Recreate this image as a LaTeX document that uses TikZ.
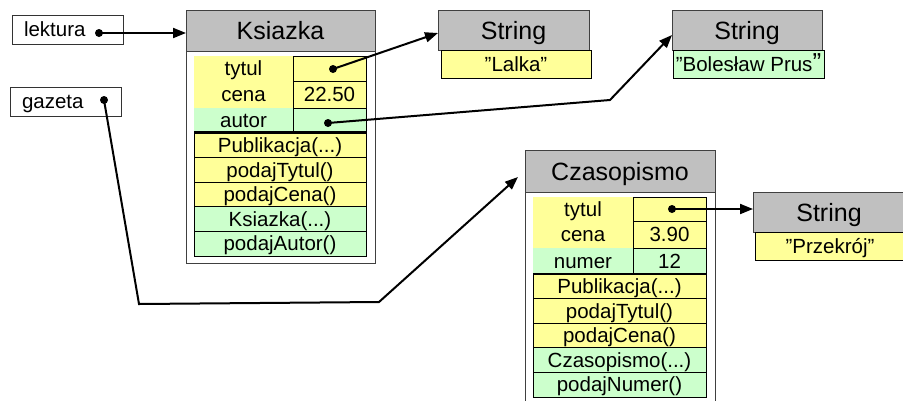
\documentclass[tikz,border=0pt]{standalone}
\usepackage{fontspec}
\setmainfont{Liberation Sans}
\usetikzlibrary{arrows.meta}

\definecolor{hdgray}{HTML}{C0C0C0}
\definecolor{fldyellow}{HTML}{FFFF99}
\definecolor{fldgreen}{HTML}{CCFFCC}

% three dots of the argument lists (kept out of the \foreach lists)
\newcommand{\argdots}{...}

\begin{document}
\begin{tikzpicture}[
    x=1pt, y=-1pt,
    every node/.style={inner sep=0pt, outer sep=0pt, anchor=north west},
    txt/.style={font=\fontsize{20.5}{20.5}\selectfont, text height=14.5pt, text depth=0pt},
    objbox/.style={draw=black!75, line width=1pt, fill=white},
    head/.style={draw=black!75, line width=1pt, fill=hdgray,
        font=\fontsize{25}{25}\selectfont, text height=18pt, text depth=0pt},
    namecell/.style={txt},
    valcell/.style={txt, draw=black, line width=0.9pt},
    method/.style={txt, draw=black, line width=0.9pt},
    varbox/.style={txt, draw=black!80, line width=0.9pt, text width=87pt,
        inner xsep=12pt, align=left, minimum height=29pt},
    dot/.style={circle, fill=black, minimum size=8pt, anchor=center},
    ref/.style={line width=2pt, -{Triangle[length=13pt,width=10pt]}}
]
\clip (0,0) rectangle (903,400);

% variables
\node [varbox] (lektura) at (12,15) {lektura};
\node [varbox] (gazeta) at (10,87) {gazeta};
\node [dot] (lDot) at (99,33) {};
\node [dot] (gDot) at (104,100) {};

% object Ksiazka
\node [objbox, minimum width=189pt, minimum height=253pt] (ksiazka) at (186,10) {};
\node [head, minimum width=189pt, minimum height=41pt] (ksiazkaHead) at (186,10) {Ksiazka};
\node [namecell, fill=fldyellow, minimum width=99pt, minimum height=25pt] (kTytul) at (194,56) {tytul};
\node [namecell, fill=fldyellow, minimum width=99pt, minimum height=27pt] (kCena) at (194,81) {cena};
\node [valcell, fill=fldyellow, minimum width=73pt, minimum height=25pt] (kTytulVal) at (293,56) {};
\node [valcell, fill=fldyellow, minimum width=73pt, minimum height=27pt] (kCenaVal) at (293,81) {22.50};
\node [namecell, fill=fldgreen, minimum width=99pt, minimum height=24pt] (kAutor) at (194,108) {autor};
\node [valcell, fill=fldgreen, minimum width=73pt, minimum height=24pt] (kAutorVal) at (293,108) {};
\draw [line width=3pt] (kAutor.south west) -- (kAutorVal.south east);
\foreach \m/\c [count=\i from 0] in {Publikacja(\argdots)/fldyellow, podajTytul()/fldyellow,
        podajCena()/fldyellow, Ksiazka(\argdots)/fldgreen, podajAutor()/fldgreen}
    \node [method, fill=\c, minimum width=172pt, minimum height=24.6pt] (kMeth\i)
        at (194,{133+24.6*\i}) {\m};
\node [dot] (kTytulDot) at (333,69) {};
\node [dot] (kAutorDot) at (328,123) {};

% object Czasopismo
\node [objbox, minimum width=190pt, minimum height=260pt] (czas) at (525,150) {};
\node [head, minimum width=190pt, minimum height=42pt] (czasHead) at (525,150) {Czasopismo};
\node [namecell, fill=fldyellow, minimum width=100pt, minimum height=24pt] (cTytul) at (533,197) {tytul};
\node [namecell, fill=fldyellow, minimum width=100pt, minimum height=27pt] (cCena) at (533,221) {cena};
\node [valcell, fill=fldyellow, minimum width=73pt, minimum height=24pt] (cTytulVal) at (633,197) {};
\node [valcell, fill=fldyellow, minimum width=73pt, minimum height=27pt] (cCenaVal) at (633,221) {3.90};
\node [namecell, fill=fldgreen, minimum width=100pt, minimum height=26pt] (cNumer) at (533,248) {numer};
\node [valcell, fill=fldgreen, minimum width=73pt, minimum height=26pt] (cNumerVal) at (633,248) {12};
\draw [line width=1.4pt] (cNumer.south west) -- (cNumerVal.south east);
\foreach \m/\c [count=\i from 0] in {Publikacja(\argdots)/fldyellow, podajTytul()/fldyellow,
        podajCena()/fldyellow, Czasopismo(\argdots)/fldgreen, podajNumer()/fldgreen}
    \node [method, fill=\c, minimum width=173pt, minimum height=24.6pt] (cMeth\i)
        at (533,{274+24.6*\i}) {\m};
\node [dot] (cTytulDot) at (672,209) {};

% strings
\node [head, minimum width=151pt, minimum height=40pt] (s1Head) at (438,10) {String};
\node [valcell, fill=fldyellow, minimum width=150pt, minimum height=28pt] (s1Val) at (441,50) {"Lalka"};
\node [head, minimum width=150pt, minimum height=40pt] (s2Head) at (672,10) {String};
\node [valcell, fill=fldgreen, minimum width=151pt, minimum height=28pt] (s2Val) at (673,50)
    {"Bolesław Prus{\fontsize{26}{26}\selectfont”}};
\node [head, minimum width=152pt, minimum height=40pt] (s3Head) at (753,192) {String};
\node [valcell, fill=fldyellow, minimum width=150pt, minimum height=28pt] (s3Val) at (755,232) {"Przekrój"};

% references
\coordinate (autorBend) at (610,100);
\coordinate (gazBend1) at (139,304);
\coordinate (gazBend2) at (379,302);
\draw [ref] (lDot.center) -- (lDot.center -| ksiazkaHead.west);
\draw [ref] (kTytulDot.center) -- ([yshift=-3pt]s1Head.west);
\draw [ref] (kAutorDot.center) -- (autorBend) -- ([yshift=-5pt]s2Head.west);
\draw [ref] (gDot.center) -- (gazBend1) -- (gazBend2) -- ([xshift=-7pt,yshift=15pt]czasHead.south west);
\draw [ref] (cTytulDot.center) -- (cTytulDot.center -| s3Head.west);
\end{tikzpicture}
\end{document}
